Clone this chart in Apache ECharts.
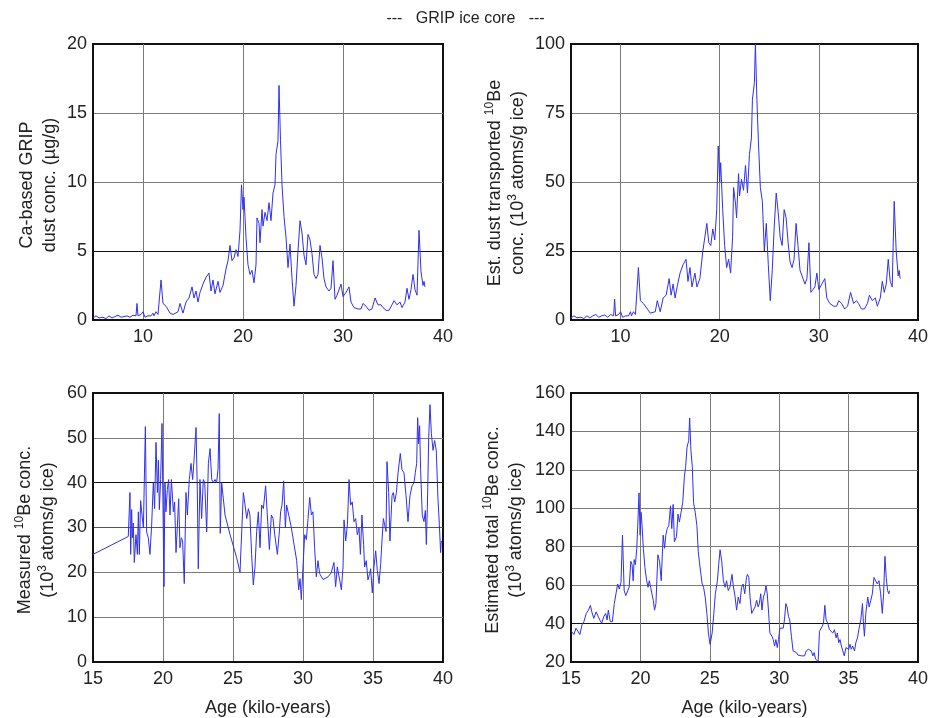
<!DOCTYPE html>
<html>
<head>
<meta charset="utf-8">
<title>GRIP ice core</title>
<script src="https://cdn.jsdelivr.net/npm/echarts@6/dist/echarts.min.js"></script>
<style>
  html, body { margin: 0; padding: 0; background: #fff; }
  #chart { width: 931px; height: 718px; }
</style>
</head>
<body>
<div id="chart"></div>
<script>
// ages (kyr) shared by the two top panels
const ageTop = [5.0, 5.3, 5.6, 6.0, 6.3, 6.6, 6.9, 7.2, 7.5, 7.8, 8.1, 8.4, 8.7, 9.0, 9.3, 9.4, 9.5, 9.8, 10.0, 10.2,
  10.5, 10.8, 11.0, 11.1, 11.3, 11.5, 11.8, 12.0, 12.3, 12.7, 13.0, 13.5, 13.7, 14.0, 14.3, 14.6, 14.9, 15.1, 15.3, 15.5,
  15.7, 16.0, 16.3, 16.6, 16.8, 17.0, 17.2, 17.5, 17.7, 18.0, 18.3, 18.5, 18.7, 18.9, 19.1, 19.3, 19.5, 19.7, 19.85, 20.0,
  20.1, 20.3, 20.5, 20.7, 20.9, 21.1, 21.3, 21.4, 21.6, 21.7, 21.9, 22.0, 22.2, 22.4, 22.6, 22.8, 23.0, 23.2, 23.3, 23.5,
  23.6, 23.75, 23.9, 24.1, 24.3, 24.5, 24.7, 24.9, 25.1, 25.3, 25.5, 25.7, 25.9, 26.1, 26.3, 26.5, 26.7, 26.9, 27.1, 27.3,
  27.5, 27.7, 27.9, 28.1, 28.3, 28.6, 28.8, 29.0, 29.2, 29.4, 29.6, 29.8, 30.0, 30.3, 30.6, 30.8, 31.1, 31.5, 31.8, 32.0,
  32.3, 32.6, 32.9, 33.2, 33.5, 33.8, 34.0, 34.3, 34.6, 34.9, 35.1, 35.4, 35.7, 35.9, 36.2, 36.4, 36.6, 36.8, 37.0, 37.2,
  37.4, 37.6, 37.8, 38.0, 38.1, 38.2];

// Ca-based GRIP dust conc. (ug/g)
const dustCa = [0.15, 0.3, 0.15, 0.2, 0.1, 0.3, 0.15, 0.25, 0.35, 0.2, 0.25, 0.3, 0.2, 0.35, 0.3, 1.2, 0.3, 0.4, 0.6, 0.2,
  0.3, 0.3, 0.5, 0.3, 0.6, 0.4, 2.9, 1.2, 1.0, 0.5, 0.4, 0.6, 1.2, 0.5, 1.3, 1.6, 2.4, 1.6, 2.1, 1.3,
  2.0, 2.6, 3.1, 3.4, 2.1, 2.9, 1.9, 2.8, 2.0, 2.5, 3.7, 4.3, 5.4, 4.3, 4.5, 5.1, 4.6, 6.5, 9.8, 8.0,
  8.9, 6.0, 4.0, 3.3, 3.6, 2.7, 4.0, 7.4, 7.0, 5.6, 8.0, 6.8, 7.8, 7.2, 8.5, 7.2, 9.2, 9.8, 12.0, 13.0,
  17.0, 13.0, 9.8, 7.5, 6.0, 3.8, 5.5, 3.0, 1.0, 2.5, 5.0, 7.2, 6.3, 4.7, 4.0, 6.2, 5.8, 4.8, 3.3, 3.0,
  3.3, 5.4, 4.5, 3.0, 2.4, 2.1, 2.3, 4.3, 1.5, 1.8, 1.7, 2.6, 1.7, 2.0, 2.4, 1.3, 0.9, 0.8, 0.8, 1.2,
  1.0, 0.7, 0.8, 1.6, 1.1, 1.1, 0.9, 0.7, 0.7, 1.1, 1.4, 1.1, 1.3, 0.9, 1.3, 2.3, 1.5, 2.2, 3.3, 2.2,
  1.8, 6.5, 3.5, 2.5, 2.8, 2.4];

// est. dust transported 10Be (10^3 atoms/g ice)
const beDust = [0.8, 1.5, 0.8, 1.0, 0.5, 1.5, 0.8, 1.5, 2.0, 1.0, 1.5, 1.8, 1.0, 2.0, 1.5, 7.6, 1.5, 2.0, 3.0, 1.0,
  1.5, 1.5, 3.0, 1.5, 3.0, 2.0, 19, 7, 6, 4, 2.5, 3, 7, 3, 8, 9, 15, 9, 13, 8,
  12, 17, 20, 22, 14, 19, 12, 17, 12, 15, 25, 30, 35, 28, 27, 33, 29, 40, 63, 50,
  57, 40, 27, 19, 22, 17, 30, 48, 42, 37, 53, 45, 51, 47, 56, 46, 60, 66, 80, 86,
  100, 80, 65, 48, 43, 25, 35, 20, 7, 18, 34, 46, 39, 30, 27, 40, 37, 28, 21, 19,
  22, 35, 27, 18, 16, 13, 15, 28, 10, 11, 12, 17, 11, 13, 15, 8, 6, 5, 5, 7,
  6, 4, 5, 10, 6, 7, 6, 4, 4, 6, 9, 7, 8, 5, 8, 14, 10, 13, 22, 14,
  12, 43, 25, 16, 18, 15];

// measured 10Be
const ageMeas = [15.0, 17.52, 17.64, 17.69, 17.76, 17.81, 17.88, 17.95, 18.07, 18.17, 18.24, 18.31, 18.40, 18.50, 18.60,
  18.74, 18.83, 18.95, 19.07, 19.19, 19.31, 19.40, 19.50, 19.60, 19.67, 19.74, 19.83, 19.93, 20.0, 20.07, 20.14, 20.21,
  20.31, 20.40, 20.50, 20.60, 20.74, 20.83, 20.93, 21.02, 21.12, 21.21, 21.31, 21.40, 21.52, 21.64, 21.74, 21.88, 22.0,
  22.12, 22.24, 22.36, 22.45, 22.52, 22.64, 22.76, 22.88, 22.98, 23.12, 23.24, 23.36, 23.48, 23.60, 23.71, 23.83, 23.93,
  24.02, 24.09, 24.19, 24.31, 24.43, 24.79, 25.26, 25.5, 25.62, 25.74, 25.86, 25.98, 26.1, 26.21, 26.33, 26.45, 26.57,
  26.69, 26.81, 26.93, 27.05, 27.17, 27.33, 27.45, 27.6, 27.74, 27.86, 27.98, 28.17, 28.31, 28.4, 28.5, 28.62, 28.74,
  28.83, 28.98, 29.17, 29.36, 29.55, 29.69, 29.79, 29.88, 30.0, 30.12, 30.24, 30.36, 30.48, 30.6, 30.71, 30.83, 30.95,
  31.07, 31.19, 31.43, 31.79, 32.02, 32.21, 32.33, 32.45, 32.62, 32.74, 32.86, 32.93, 33.05, 33.17, 33.29, 33.4, 33.52,
  33.64, 33.76, 33.88, 34.0, 34.1, 34.21, 34.33, 34.4, 34.52, 34.64, 34.76, 34.83, 34.95, 35.07, 35.19, 35.31, 35.43,
  35.55, 35.64, 35.74, 35.83, 35.93, 36.0, 36.12, 36.21, 36.36, 36.45, 36.55, 36.67, 36.79, 36.95, 37.07, 37.21, 37.36,
  37.5, 37.64, 37.79, 37.93, 38.02, 38.12, 38.19, 38.26, 38.33, 38.4, 38.52, 38.64, 38.74, 38.81, 38.88, 38.98, 39.07,
  39.17, 39.29, 39.4, 39.52, 39.64, 39.74, 39.83, 39.88];
const beMeas = [24, 28, 37.8, 24, 34, 27.7, 31, 22.2, 28.4, 24, 33.5, 24, 36, 32.8, 29.9,
  52.5, 29, 27.7, 24, 30.6, 40, 34.2, 49, 37.8, 45, 34, 40.7, 53.2, 34.2, 16.8, 40, 33.5,
  38.5, 40.7, 32.8, 40.7, 33.5, 35.7, 24.4, 29.9, 36.4, 25.5, 27.7, 27, 17.5, 37.8, 32.8, 40.7, 44.3,
  40.7, 46.2, 52.3, 38.5, 20.8, 40.7, 32, 40.7, 40, 29, 44.3, 47.6, 40.7, 40, 40.7, 40, 43,
  55.4, 28.7, 40, 36.4, 32.8, 28.4, 23.3, 20, 20, 37.8, 35, 32, 34.2, 32.8, 24, 17.2, 21.2,
  29.1, 33.5, 25.5, 35, 34.2, 39.3, 32.8, 25.1, 32.8, 32, 28.4, 24, 29, 33.5, 35, 40.4, 29.9,
  35, 32.8, 29.9, 26.2, 22.6, 16.1, 18.6, 13.9, 21.2, 28.4, 27.3, 32, 36.7, 32.8, 33.5, 25.5, 19,
  22.6, 19.7, 18.4, 19, 19.9, 22.2, 16.8, 21.2, 18.3, 16.1, 21.2, 31.7, 27, 30.6, 40.7, 35, 35.7,
  31.3, 32, 28.4, 29.9, 24, 32.8, 26.2, 21.2, 22.6, 18.3, 19.7, 20.8, 15.4, 21.2, 24.8, 20.4, 17.5,
  21.9, 27, 32, 32, 29.1, 44.7, 37.8, 27, 37.1, 37.8, 35.7, 37.8, 42.2, 46.5, 42.9, 42.2, 37.1,
  31.3, 37.1, 39.3, 40, 42.2, 44.3, 54.5, 48.7, 52.7, 42.9, 32.8, 31.3, 33.8, 26.2, 34.2, 50.1, 57.4,
  50.9, 47.2, 49.4, 47.2, 36.4, 30.6, 24.4, 27];

// estimated total 10Be
const ageTot = [15.02, 15.21, 15.36, 15.5, 15.64, 15.79, 15.93, 16.1, 16.26, 16.4, 16.5, 16.64, 16.81, 16.93, 17.07,
  17.21, 17.36, 17.5, 17.6, 17.69, 17.83, 17.98, 18.12, 18.24, 18.36, 18.48, 18.6, 18.71, 18.83, 18.95, 19.07, 19.19,
  19.31, 19.4, 19.48, 19.55, 19.64, 19.74, 19.81, 19.9, 19.98, 20.05, 20.12, 20.21, 20.33, 20.45, 20.55, 20.64, 20.74,
  20.83, 20.93, 21.02, 21.12, 21.26, 21.38, 21.5, 21.64, 21.74, 21.83, 21.93, 22.05, 22.17, 22.26, 22.36, 22.45, 22.6,
  22.71, 22.81, 22.93, 23.05, 23.17, 23.26, 23.36, 23.48, 23.55, 23.64, 23.74, 23.83, 23.95, 24.07, 24.17, 24.26, 24.36,
  24.45, 24.55, 24.67, 24.79, 24.9, 25.02, 25.17, 25.29, 25.4, 25.55, 25.64, 25.74, 25.86, 25.98, 26.1, 26.21, 26.33,
  26.45, 26.6, 26.69, 26.81, 26.93, 27.05, 27.17, 27.29, 27.4, 27.52, 27.64, 27.71, 27.81, 27.9, 28.02, 28.14, 28.26,
  28.38, 28.48, 28.57, 28.67, 28.76, 28.86, 28.95, 29.05, 29.14, 29.24, 29.33, 29.48, 29.57, 29.67, 29.76, 29.86, 29.95,
  30.05, 30.17, 30.29, 30.38, 30.48, 30.57, 30.67, 30.76, 30.88, 31.0, 31.12, 31.24, 31.36, 31.6, 31.83, 31.95, 32.1,
  32.19, 32.31, 32.43, 32.52, 32.62, 32.71, 32.81, 32.9, 33.0, 33.1, 33.19, 33.29, 33.38, 33.5, 33.62, 33.74, 33.86,
  33.98, 34.1, 34.19, 34.29, 34.38, 34.48, 34.57, 34.69, 34.81, 34.9, 35.0, 35.1, 35.19, 35.29, 35.43, 35.52, 35.64,
  35.76, 35.88, 36.0, 36.07, 36.14, 36.24, 36.38, 36.48, 36.6, 36.71, 36.83, 36.95, 37.07, 37.19, 37.31, 37.43, 37.52,
  37.62, 37.71, 37.81, 37.9, 37.95];
const beTot = [36, 34.3, 37.6, 38.5, 34.3, 39.3, 41, 45.3, 47, 49.5, 46.1, 42.7, 46.1, 47, 41.9,
  40.2, 43.6, 45.3, 41.9, 47, 41, 41, 50.4, 51.2, 60.6, 58, 61.4, 86, 57.2, 54.6, 55.5, 58.9,
  72.4, 70.7, 62.3, 73.3, 70.7, 79.2, 91, 108, 86, 97.9, 91, 79.2, 69, 62.3, 58.9, 62.3, 58.9,
  55.5, 52.1, 47, 50.4, 75.8, 72.4, 62.3, 86, 79.2, 86, 89.4, 91.1, 101.3, 89.4, 102, 82.6, 85.2,
  97, 92.8, 97.9, 103, 116.6, 121.6, 131.8, 135.2, 147, 130.1, 121.6, 103, 97.9, 91.1, 77.5, 71.6, 65.6,
  60.6, 58.9, 53.8, 45.3, 35.1, 29.2, 35.1, 45.3, 55.5, 62.3, 70.7, 78.4, 72.4, 62.3, 58.9, 62.3, 57.2,
  58.9, 65.6, 59.7, 54.6, 47, 53.8, 50.4, 58.9, 60.6, 55.5, 64, 65.6, 64, 53.8, 45.3, 47, 48.7,
  52.1, 48.7, 50.4, 55.5, 47, 53.8, 55.5, 59.7, 55.5, 45.3, 35.1, 33.4, 31.7, 28.3, 31.7, 27.5, 31.7,
  37.6, 38.5, 37.6, 41.9, 50.4, 48.7, 43.6, 41.9, 33.4, 25.8, 24.9, 24.9, 23.6, 23.2, 23.2, 25.8, 26.6,
  27.5, 25.8, 23.2, 24.9, 21.5, 20.7, 20.3, 36, 35.1, 38.5, 40.2, 49.5, 41.9, 40.2, 36.8, 37.6, 35.1,
  36.8, 32.6, 35.1, 30, 31.7, 28.3, 27.5, 23.2, 27.5, 28.3, 26.6, 29.2, 26.6, 28.3, 25.8, 30, 32.6,
  37.6, 41.9, 50.4, 40.2, 33.4, 45.3, 53.8, 48.7, 52.1, 55.5, 64, 64.8, 60.6, 62.3, 55.5, 45.3, 55.5,
  75, 64, 57.2, 55.5, 57.2];

const zip = (xs, ys) => xs.map((x, i) => [x, ys[i]])

const FONT = 'Liberation Sans, Arial, sans-serif'
const LINE = '#2f2ff2'
const GRID_GRAY = '#7a7a7a'

const grids = [
  { left: 93, top: 44, width: 350, height: 276 },
  { left: 571, top: 44, width: 350, height: 276 },
  { left: 93, top: 393, width: 350, height: 275 },
  { left: 571, top: 393, width: 350, height: 275 }
].map(g => Object.assign(g, { show: true, borderColor: '#111', borderWidth: 2, backgroundColor: '#fff' }))

function xAxisOf(idx, min, xColors, withName) {
  return {
    type: 'value',
    gridIndex: idx,
    min: min,
    max: 40,
    interval: 5,
    axisLine: { show: true, lineStyle: { color: '#111', width: 2 } },
    axisTick: { show: false },
    axisLabel: {
      color: '#222', fontSize: 18, fontFamily: FONT, margin: 8,
      formatter: v => (xColors && v % 10 !== 0) ? '' : String(v)
    },
    splitLine: {
      show: true, showMinLine: false, showMaxLine: false,
      lineStyle: { color: xColors || GRID_GRAY, width: 1 }
    },
    name: withName ? 'Age (kilo-years)' : '',
    nameLocation: 'middle',
    nameGap: 37,
    nameTextStyle: { color: '#222', fontSize: 18, fontFamily: FONT }
  }
}

// colours list the inner split lines only (min and max lines are hidden)
function yAxisOf(idx, min, max, interval, colors) {
  return {
    type: 'value',
    gridIndex: idx,
    min: min,
    max: max,
    interval: interval,
    axisLine: { show: true, lineStyle: { color: '#111', width: 2 } },
    axisTick: { show: false },
    axisLabel: { color: '#222', fontSize: 18, fontFamily: FONT, margin: 6 },
    splitLine: {
      show: true, showMinLine: false, showMaxLine: false,
      lineStyle: { color: colors, width: 1 }
    }
  }
}

// inner vertical lines of the top panels: 10, 15, 20, ... only decades shown
const topX = [GRID_GRAY, 'transparent']

function lineSeries(idx, data) {
  return {
    type: 'line',
    xAxisIndex: idx,
    yAxisIndex: idx,
    data: data,
    showSymbol: false,
    lineStyle: { color: LINE, width: 1 },
    clip: true,
    z: 5
  }
}

const richBase = {
  s: { fontSize: 12, fontFamily: FONT, fill: '#222', verticalAlign: 'top', lineHeight: 22 }
}

function yTitle(x, y, text) {
  return {
    type: 'text',
    x: x,
    y: y,
    rotation: Math.PI / 2,
    z: 10,
    style: {
      text: text,
      fill: '#222',
      fontSize: 18,
      fontFamily: FONT,
      align: 'center',
      verticalAlign: 'middle',
      lineHeight: 23,
      rich: richBase
    }
  }
}

const chart = echarts.init(document.getElementById('chart'))

const option = {
  animation: false,
  backgroundColor: '#fff',
  title: {
    text: '---   GRIP ice core   ---',
    left: 'center',
    top: 6,
    textStyle: { color: '#222', fontSize: 16, fontWeight: 'normal', fontFamily: FONT }
  },
  grid: grids,
  xAxis: [
    xAxisOf(0, 5, topX, false),
    xAxisOf(1, 5, topX, false),
    xAxisOf(2, 15, null, true),
    xAxisOf(3, 15, null, true)
  ],
  yAxis: [
    yAxisOf(0, 0, 20, 5, ['#111', GRID_GRAY, GRID_GRAY]),
    yAxisOf(1, 0, 100, 25, ['#111', GRID_GRAY, GRID_GRAY]),
    yAxisOf(2, 0, 60, 10, [GRID_GRAY, GRID_GRAY, '#555', '#111', GRID_GRAY]),
    yAxisOf(3, 20, 160, 20, ['#111', GRID_GRAY, GRID_GRAY, GRID_GRAY, GRID_GRAY, GRID_GRAY])
  ],
  series: [
    lineSeries(0, zip(ageTop, dustCa)),
    lineSeries(1, zip(ageTop, beDust)),
    lineSeries(2, zip(ageMeas, beMeas)),
    lineSeries(3, zip(ageTot, beTot))
  ],
  graphic: [
    yTitle(39, 185, 'Ca-based GRIP\ndust conc. (\u00b5g/g)'),
    yTitle(507, 183, 'Est. dust transported {s|10}Be\nconc. ({s|}10{s|3} atoms/g ice)'),
    yTitle(37, 530, 'Measured {s|10}Be conc.\n({s|}10{s|3} atoms/g ice)'),
    yTitle(505, 530, 'Estimated total {s|10}Be conc.\n({s|}10{s|3} atoms/g ice)')
  ]
}

chart.setOption(option)
</script>
</body>
</html>
